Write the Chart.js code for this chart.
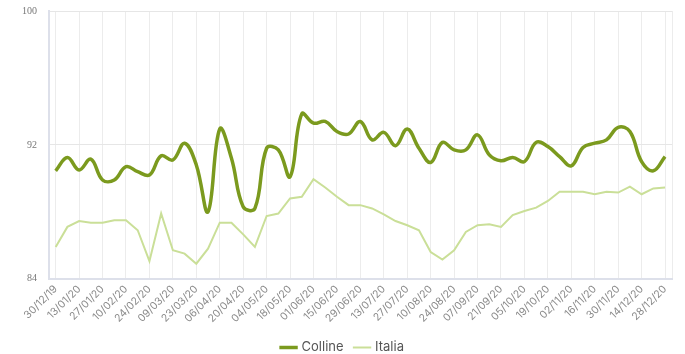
<!DOCTYPE html>
<html>
<head>
<meta charset="utf-8">
<script src="https://cdn.jsdelivr.net/npm/chart.js@4.4.1/dist/chart.umd.min.js"></script>
<style>
  html, body { margin: 0; padding: 0; background: #fff; }
  #wrap { width: 685px; height: 354px; }
</style>
</head>
<body>
<div id="wrap"><canvas id="chart"></canvas></div>
<script>
const weeks = [
    '30/12/19', '06/01/20', '13/01/20', '20/01/20', '27/01/20', '03/02/20', '10/02/20', '17/02/20',
    '24/02/20', '02/03/20', '09/03/20', '16/03/20', '23/03/20', '30/03/20', '06/04/20', '13/04/20',
    '20/04/20', '27/04/20', '04/05/20', '11/05/20', '18/05/20', '25/05/20', '01/06/20', '08/06/20',
    '15/06/20', '22/06/20', '29/06/20', '06/07/20', '13/07/20', '20/07/20', '27/07/20', '03/08/20',
    '10/08/20', '17/08/20', '24/08/20', '31/08/20', '07/09/20', '14/09/20', '21/09/20', '28/09/20',
    '05/10/20', '12/10/20', '19/10/20', '26/10/20', '02/11/20', '09/11/20', '16/11/20', '23/11/20',
    '30/11/20', '07/12/20', '14/12/20', '21/12/20', '28/12/20'
];

const colline = [
    90.45, 91.25, 90.5, 91.15, 89.9, 89.9, 90.7, 90.4, 90.2, 91.35, 91.1, 92.1, 90.8, 88.0,
    92.95, 91.2, 88.3, 88.2, 91.8, 91.7, 90.1, 93.85, 93.3, 93.4, 92.8, 92.65, 93.4, 92.3,
    92.75, 91.95, 92.95, 91.8, 90.95, 92.15, 91.7, 91.7, 92.6, 91.4, 91.05, 91.25, 91.0, 92.15,
    91.9, 91.3, 90.75, 91.85, 92.1, 92.3, 93.05, 92.8, 91.0, 90.45, 91.3
];

const italia = [
    85.9, 87.1, 87.45, 87.35, 87.35, 87.5, 87.5, 86.9, 85.05, 87.9, 85.7, 85.5, 84.9, 85.8,
    87.35, 87.35, 86.65, 85.9, 87.75, 87.9, 88.8, 88.9, 89.95, 89.45, 88.9, 88.4, 88.4, 88.2,
    87.85, 87.45, 87.2, 86.9, 85.6, 85.15, 85.7, 86.8, 87.2, 87.25, 87.1, 87.8, 88.05, 88.25,
    88.65, 89.2, 89.2, 89.2, 89.05, 89.2, 89.15, 89.5, 89.05, 89.4, 89.45
];

const xMin = -0.57;
const xMax = 52.6;

const toPoints = (values) => values.map((v, i) => ({x: i, y: v}));

const config = {
    type: 'line',
    data: {
        datasets: [{
            label: 'Colline',
            data: toPoints(colline),
            borderColor: '#7b9a1e',
            backgroundColor: '#7b9a1e',
            borderWidth: 3.5,
            tension: 0.4,
            pointRadius: 0
        }, {
            label: 'Italia',
            data: toPoints(italia),
            borderColor: '#cadf98',
            backgroundColor: '#cadf98',
            borderWidth: 2,
            tension: 0,
            pointRadius: 0
        }]
    },
    options: {
        responsive: true,
        maintainAspectRatio: false,
        animation: false,
        layout: {
            padding: {left: 10, right: 9, top: 11, bottom: -10}
        },
        scales: {
            x: {
                type: 'linear',
                min: xMin,
                max: xMax,
                afterBuildTicks: (axis) => {
                    const ticks = [];
                    for (let i = 0; i < weeks.length; i += 2) ticks.push({value: i});
                    ticks.push({value: xMax});
                    axis.ticks = ticks;
                },
                grid: {
                    color: '#ececec',
                    drawTicks: false
                },
                border: {color: '#dde0ea', width: 2},
                ticks: {
                    autoSkip: false,
                    maxRotation: 45,
                    minRotation: 45,
                    padding: 4,
                    color: '#8a8a8a',
                    font: {family: 'Inter', size: 10.5},
                    callback: (value) => Number.isInteger(value) ? weeks[value] : ''
                }
            },
            y: {
                min: 84,
                max: 100,
                afterFit: (scale) => { scale.paddingTop = 0; },
                grid: {
                    color: '#e6e6e6',
                    drawTicks: false
                },
                border: {color: '#dde0ea', width: 2},
                ticks: {
                    stepSize: 8,
                    padding: 12,
                    color: '#777',
                    font: {family: 'Liberation Serif', size: 10}
                }
            }
        },
        plugins: {
            legend: {
                position: 'bottom',
                labels: {
                    usePointStyle: true,
                    pointStyle: 'line',
                    boxWidth: 14,
                    padding: 12,
                    color: '#555',
                    font: {family: 'Inter', size: 13}
                }
            },
            tooltip: {enabled: false}
        }
    }
};

new Chart(document.getElementById('chart'), config);
</script>
</body>
</html>
